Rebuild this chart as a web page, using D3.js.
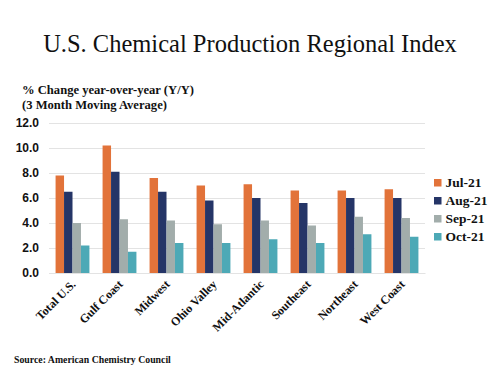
<!DOCTYPE html>
<html>
<head>
<meta charset="utf-8">
<script src="https://cdn.jsdelivr.net/npm/d3@7"></script>
<style>
  body { margin: 0; background: #fff; }
</style>
</head>
<body>
<div id="chart"></div>
<script>
// data
var regions = ["Total U.S.", "Gulf Coast", "Midwest", "Ohio Valley", "Mid-Atlantic", "Southeast", "Northeast", "West Coast"];
var months = ["Jul-21", "Aug-21", "Sep-21", "Oct-21"];
var jul21 = [7.8, 10.2, 7.6, 7.0, 7.1, 6.6, 6.6, 6.7];
var aug21 = [6.5, 8.1, 6.5, 5.8, 6.0, 5.6, 6.0, 6.0];
var sep21 = [4.0, 4.3, 4.2, 3.9, 4.2, 3.8, 4.5, 4.4];
var oct21 = [2.2, 1.7, 2.4, 2.4, 2.7, 2.4, 3.1, 2.9];
var yTicks = [0, 2, 4, 6, 8, 10, 12];

var series = [jul21, aug21, sep21, oct21];
var colors = ["#E2733A", "#253567", "#A2ADAB", "#4DA9B6"];

var width = 500, height = 375;
var margin = { top: 123, right: 75, bottom: 102, left: 49 };
var w = width - margin.left - margin.right,
    h = height - margin.top - margin.bottom;

var svg = d3.select("#chart")
  .append("svg")
    .attr("width", width)
    .attr("height", height);

// title
svg.append("text")
  .attr("x", 250)
  .attr("y", 52)
  .attr("text-anchor", "middle")
  .style("font-family", "'Liberation Serif', 'Times New Roman', serif")
  .style("font-size", "24.5px")
  .style("fill", "#111")
  .text("U.S. Chemical Production Regional Index");

// y axis caption
var cap = svg.append("text")
  .style("font-family", "'Liberation Serif', 'Times New Roman', serif")
  .style("font-size", "12.6px")
  .style("font-weight", "bold")
  .style("fill", "#111");
cap.append("tspan").attr("x", 22).attr("y", 94).text("% Change year-over-year (Y/Y)");
cap.append("tspan").attr("x", 22).attr("y", 109).text("(3 Month Moving Average)");

var g = svg.append("g")
  .attr("transform", "translate(" + margin.left + "," + margin.top + ")");

var x0 = d3.scaleBand()
  .domain(regions)
  .range([0, w])
  .paddingInner(0.28)
  .paddingOuter(0.14);

var x1 = d3.scaleBand()
  .domain(months)
  .range([0, x0.bandwidth()]);

var y = d3.scaleLinear()
  .domain([0, 12])
  .range([h, 0]);

// gridlines
g.append("g")
  .call(d3.axisLeft(y).tickValues(yTicks).tickSize(-w).tickFormat(""))
  .call(function(s) {
    s.select(".domain").remove();
    s.selectAll("line").attr("stroke", "#e3e3e3");
  });

// y labels
g.append("g")
  .call(d3.axisLeft(y).tickValues(yTicks).tickSize(0).tickPadding(10).tickFormat(d3.format(".1f")))
  .call(function(s) {
    s.select(".domain").remove();
    s.selectAll("text")
      .style("font-family", "'Liberation Sans', Arial, sans-serif")
      .style("font-size", "12px")
      .style("font-weight", "bold")
      .style("fill", "#111");
  });

// bars
var groups = g.selectAll(".grp")
  .data(regions)
  .enter().append("g")
    .attr("class", "grp")
    .attr("transform", function(d) { return "translate(" + x0(d) + ",0)"; });

groups.selectAll("rect")
  .data(function(d, i) {
    return months.map(function(m, j) { return { month: m, value: series[j][i], c: colors[j] }; });
  })
  .enter().append("rect")
    .attr("x", function(d) { return x1(d.month); })
    .attr("y", function(d) { return y(d.value); })
    .attr("width", x1.bandwidth())
    .attr("height", function(d) { return h - y(d.value); })
    .attr("fill", function(d) { return d.c; });

// x axis
g.append("g")
  .attr("transform", "translate(0," + h + ")")
  .call(d3.axisBottom(x0).tickSize(0).tickPadding(0))
  .call(function(s) {
    s.select(".domain").attr("stroke", "#e3e3e3");
    s.selectAll("text")
      .attr("dy", 0)
      .attr("transform", "translate(4,12)rotate(-45)")
      .style("text-anchor", "end")
      .style("font-family", "'Liberation Serif', 'Times New Roman', serif")
      .style("font-size", "12px")
      .style("font-weight", "bold")
      .style("fill", "#111");
  });

// legend
var legend = svg.append("g")
  .attr("transform", "translate(434,179)");
months.forEach(function(m, i) {
  var row = legend.append("g").attr("transform", "translate(0," + (i * 18) + ")");
  row.append("rect")
    .attr("width", 7.5).attr("height", 7.5)
    .attr("y", 0)
    .attr("fill", colors[i]);
  row.append("text")
    .attr("x", 11.5)
    .attr("y", 7.5)
    .style("font-family", "'Liberation Serif', 'Times New Roman', serif")
    .style("font-size", "13.5px")
    .style("font-weight", "bold")
    .style("fill", "#111")
    .text(m);
});

// source
svg.append("text")
  .attr("x", 14)
  .attr("y", 363)
  .style("font-family", "'Liberation Serif', 'Times New Roman', serif")
  .style("font-size", "9.8px")
  .style("font-weight", "bold")
  .style("fill", "#111")
  .text("Source: American Chemistry Council");
</script>
</body>
</html>
